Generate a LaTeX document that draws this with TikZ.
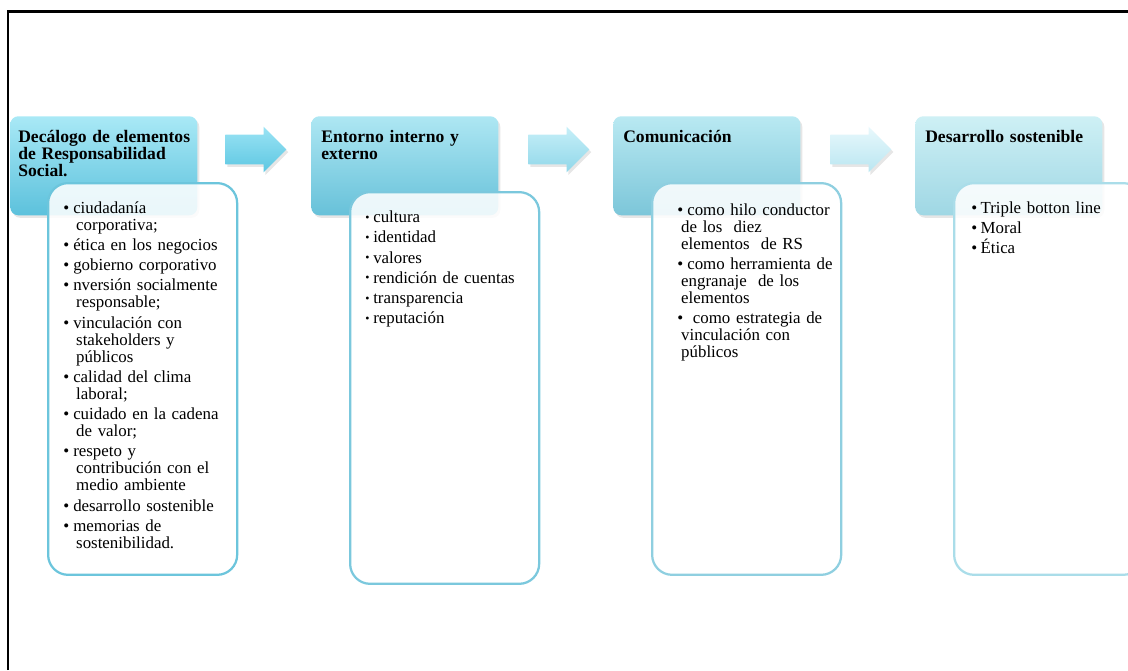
\documentclass[tikz,border=0pt]{standalone}
\usepackage{fontspec}
\setmainfont{Liberation Serif}
\usetikzlibrary{shapes.arrows,shadows}

\definecolor{hdA1}{HTML}{A9E9F6}\definecolor{hdB1}{HTML}{5CC1DC}
\definecolor{hdA2}{HTML}{AEE7F3}\definecolor{hdB2}{HTML}{67C1D9}
\definecolor{hdA3}{HTML}{B9E9F2}\definecolor{hdB3}{HTML}{7CC6D9}
\definecolor{hdA4}{HTML}{CEF0F5}\definecolor{hdB4}{HTML}{9FD7E4}
\definecolor{bd1}{HTML}{6CC5DC}\definecolor{bd2}{HTML}{7BC8DD}
\definecolor{bd3}{HTML}{8FCFE0}\definecolor{bd4}{HTML}{AADDE9}
\definecolor{arA1}{HTML}{9AE3F4}\definecolor{arB1}{HTML}{5DC7E2}
\definecolor{arA2}{HTML}{C6EFF8}\definecolor{arB2}{HTML}{90D7E9}
\definecolor{arA3}{HTML}{E8F8FC}\definecolor{arB3}{HTML}{B9E6F1}

\newlength{\bulw}\newlength{\hang}
\newcommand{\lst}[2]{\setlength{\parskip}{2.3pt}\setlength{\bulw}{#1}\setlength{\hang}{#2}}
\newcommand{\itm}[2][\textbullet]{\noindent\hangindent=\hang\hangafter=1\makebox[\bulw][l]{#1}#2\par}
\newcommand{\dotb}{\raisebox{1.2pt}{\fontsize{8.5}{8.5}\selectfont\textbullet}}

\begin{document}
\begin{tikzpicture}[x=0.025cm,y=-0.025cm,
	head/.style={anchor=north west,minimum width=4.675cm,minimum height=2.475cm,inner sep=0pt,rounded corners=0.2cm,
		drop shadow={shadow xshift=1.4pt,shadow yshift=-1.8pt,opacity=0.2}},
	body/.style={anchor=north west,minimum width=4.725cm,minimum height=9.79cm,inner sep=0pt,rounded corners=0.5cm,
		fill=white,fill opacity=0.87,line width=1.6pt},
	arr/.style={single arrow,anchor=west,minimum height=1.525cm,inner xsep=0pt,inner ysep=0.3625cm,single arrow head extend=0.2cm,
		drop shadow={shadow xshift=1.4pt,shadow yshift=-1.8pt,opacity=0.2}},
	htxt/.style={anchor=base west,inner sep=0pt,text width=4.5cm,align=left,font=\fontsize{12.5}{12.1}\selectfont\bfseries},
	btxt/.style={anchor=base west,inner sep=0pt,text width=4.4cm,align=left,font=\fontsize{12}{12.1}\selectfont}]
\useasboundingbox (0,0) rectangle (1128,670);
\clip (0,0) rectangle (1128,670);
\draw[line width=1.9pt] (8,670) -- (8,11.3) -- (1128,11.3);

\foreach \i/\x in {1/10,2/311,3/613,4/915}
	\node[head,top color=hdA\i,bottom color=hdB\i] (h\i) at (\x,116) {};
\foreach \i/\x/\y in {1/47/182,2/349/191,3/651/182,4/953/182}
	\node[body,draw=bd\i] (b\i) at (\x,\y) {};
\foreach \i/\x in {1/225,2/528,3/830}
	\node[arr,top color=arA\i,bottom color=arB\i] (a\i) at (\x,149.5) {};

\node[htxt] (ht1) at (18,142) {Decálogo de elementos\newline de Responsabilidad\newline Social.};
\node[htxt] (ht2) at (321,142) {Entorno interno y\newline externo};
\node[htxt] (ht3) at (623,142) {Comunicación};
\node[htxt] (ht4) at (925,142) {Desarrollo sostenible};

\node[btxt] (bt1) at (63,213) {\lst{7.1pt}{9.2pt}%
	\itm{ciudadanía\newline corporativa;}
	\itm{ética en los negocios}
	\itm{gobierno corporativo}
	\itm{nversión socialmente\newline responsable;}
	\itm{vinculación con\newline stakeholders y\newline públicos}
	\itm{calidad del clima\newline laboral;}
	\itm{cuidado en la cadena\newline de valor;}
	\itm{respeto y\newline contribución con el\newline medio ambiente}
	\itm{desarrollo sostenible}
	\itm{memorias de\newline sostenibilidad.}};
\node[btxt] (bt2) at (365,222.7) {\lst{5.7pt}{5.7pt}%
	\itm[\dotb]{cultura}
	\itm[\dotb]{identidad}
	\itm[\dotb]{valores}
	\itm[\dotb]{rendición de cuentas}
	\itm[\dotb]{transparencia}
	\itm[\dotb]{reputación}};
\node[btxt] (bt3) at (677,215) {\lst{7.1pt}{2.8pt}%
	\itm{como hilo conductor\newline de los\ \ diez\newline elementos\ \ de RS}
	\itm{como herramienta de\newline engranaje\ \ de los\newline elementos}
	\itm{\ como estrategia de\newline vinculación con\newline públicos}};
\node[btxt] (bt4) at (971,213.3) {\lst{6.6pt}{6.6pt}%
	\itm{Triple botton line}
	\itm{Moral}
	\itm{Ética}};
\end{tikzpicture}
\end{document}
